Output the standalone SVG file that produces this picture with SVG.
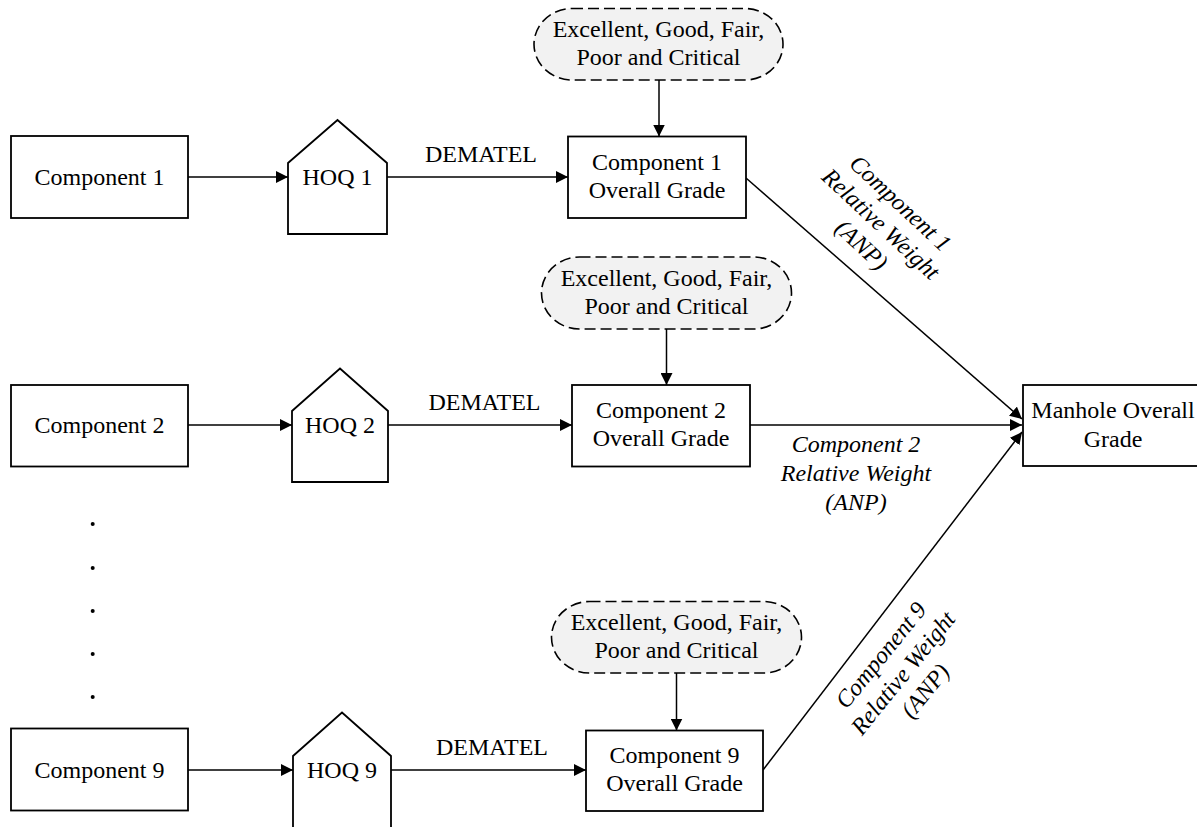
<svg xmlns="http://www.w3.org/2000/svg" width="1197" height="827" viewBox="0 0 1197 827">
  <defs>
    <marker id="arrow" viewBox="0 0 12 12" refX="12" refY="6" markerWidth="12" markerHeight="12" markerUnits="userSpaceOnUse" orient="auto">
      <path d="M0,0 L12,6 L0,12 z" fill="#000"/>
    </marker>
    <style>
      .box { fill: #fff; stroke: #000; stroke-width: 1.8; }
      .pill { fill: #f2f2f2; stroke: #000; stroke-width: 1.6; stroke-dasharray: 11 5; }
      .link { fill: none; stroke: #000; stroke-width: 1.5; marker-end: url(#arrow); }
      text { font-family: "Liberation Serif", "Times New Roman", serif; font-size: 24px; fill: #000; }
      .c { text-anchor: middle; }
      .it { font-style: italic; text-anchor: middle; }
      .dot { fill: #000; }
    </style>
  </defs>

  <rect width="1197" height="827" fill="#fff"/>

  <!-- connectors -->
  <g id="connectors">
    <line class="link" x1="188" y1="177" x2="288" y2="177"/>
    <line class="link" x1="387" y1="177" x2="568" y2="177"/>
    <line class="link" x1="659" y1="80" x2="659" y2="136.5"/>
    <line class="link" x1="746" y1="178" x2="1022" y2="419"/>

    <line class="link" x1="188" y1="425" x2="292" y2="425"/>
    <line class="link" x1="388" y1="425" x2="572" y2="425"/>
    <line class="link" x1="666.5" y1="329" x2="666.5" y2="385"/>
    <line class="link" x1="750" y1="425" x2="1022" y2="425"/>

    <line class="link" x1="188" y1="770" x2="293" y2="770"/>
    <line class="link" x1="390" y1="770" x2="586" y2="770"/>
    <line class="link" x1="676.5" y1="673" x2="676.5" y2="730.5"/>
    <line class="link" x1="763" y1="770" x2="1022" y2="432"/>

    <text class="c" x="481" y="162">DEMATEL</text>
    <text class="c" x="484.5" y="410">DEMATEL</text>
    <text class="c" x="492" y="755">DEMATEL</text>

    <g transform="translate(881,224) rotate(43)">
      <text class="it" x="0" y="-20.5">Component 1</text>
      <text class="it" x="0" y="8">Relative Weight</text>
      <text class="it" x="0" y="36.5">(ANP)</text>
    </g>
    <g>
      <text class="it" x="856" y="452">Component 2</text>
      <text class="it" x="856" y="481">Relative Weight</text>
      <text class="it" x="856" y="510">(ANP)</text>
    </g>
    <g transform="translate(903,673) rotate(-51)">
      <text class="it" x="0" y="-20.5">Component 9</text>
      <text class="it" x="0" y="8">Relative Weight</text>
      <text class="it" x="0" y="36.5">(ANP)</text>
    </g>
  </g>

  <!-- row 1 -->
  <g id="component-1">
    <rect class="box" x="11" y="136" width="177" height="82"/>
    <text class="c" x="99.5" y="185">Component 1</text>
  </g>
  <g id="hoq-1">
    <path class="box" d="M288,163 L337.5,120 L387,163 L387,234 L288,234 Z"/>
    <text class="c" x="337.5" y="185">HOQ 1</text>
  </g>
  <g id="scale-1">
    <rect class="pill" x="534" y="8.5" width="249" height="71.5" rx="38" ry="36"/>
    <text class="c" x="658.5" y="37">Excellent, Good, Fair,</text>
    <text class="c" x="658.5" y="65">Poor and Critical</text>
  </g>
  <g id="grade-1">
    <rect class="box" x="568" y="136.5" width="178" height="81.5"/>
    <text class="c" x="657" y="170">Component 1</text>
    <text class="c" x="657" y="198">Overall Grade</text>
  </g>

  <!-- row 2 -->
  <g id="component-2">
    <rect class="box" x="11" y="385" width="177" height="81.5"/>
    <text class="c" x="99.5" y="433">Component 2</text>
  </g>
  <g id="hoq-2">
    <path class="box" d="M292,411 L340,368.5 L388,411 L388,482 L292,482 Z"/>
    <text class="c" x="340" y="433">HOQ 2</text>
  </g>
  <g id="scale-2">
    <rect class="pill" x="541.5" y="257" width="250" height="72" rx="38" ry="36"/>
    <text class="c" x="666.5" y="285.5">Excellent, Good, Fair,</text>
    <text class="c" x="666.5" y="313.5">Poor and Critical</text>
  </g>
  <g id="grade-2">
    <rect class="box" x="572" y="385" width="178" height="81.5"/>
    <text class="c" x="661" y="418">Component 2</text>
    <text class="c" x="661" y="446">Overall Grade</text>
  </g>

  <!-- omitted rows -->
  <g id="ellipsis">
    <circle class="dot" cx="92.7" cy="524" r="2"/>
    <circle class="dot" cx="92.7" cy="568" r="2"/>
    <circle class="dot" cx="92.7" cy="611" r="2"/>
    <circle class="dot" cx="92.7" cy="654" r="2"/>
    <circle class="dot" cx="92.7" cy="697" r="2"/>
  </g>

  <!-- row 9 -->
  <g id="component-9">
    <rect class="box" x="11" y="728.5" width="177" height="82"/>
    <text class="c" x="99.5" y="778">Component 9</text>
  </g>
  <g id="hoq-9">
    <path class="box" d="M293,756 L342,712.5 L391,756 L391,830 L293,830 Z"/>
    <text class="c" x="342" y="778">HOQ 9</text>
  </g>
  <g id="scale-9">
    <rect class="pill" x="551.5" y="601.5" width="250" height="71.5" rx="38" ry="36"/>
    <text class="c" x="676.5" y="630">Excellent, Good, Fair,</text>
    <text class="c" x="676.5" y="658">Poor and Critical</text>
  </g>
  <g id="grade-9">
    <rect class="box" x="586" y="730.5" width="177" height="80.5"/>
    <text class="c" x="674.5" y="763">Component 9</text>
    <text class="c" x="674.5" y="791">Overall Grade</text>
  </g>

  <!-- target -->
  <g id="manhole">
    <rect class="box" x="1023" y="385" width="178" height="81"/>
    <text class="c" x="1113" y="418">Manhole Overall</text>
    <text class="c" x="1113" y="447">Grade</text>
  </g>
</svg>
